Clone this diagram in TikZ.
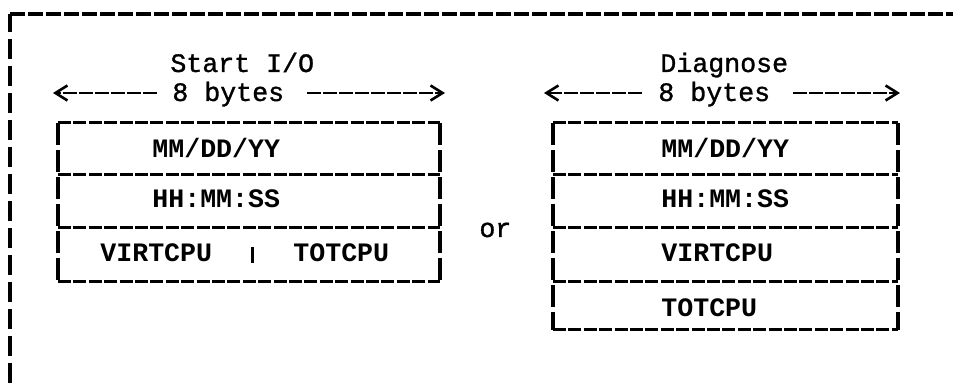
\documentclass[tikz,border=0pt]{standalone}
\usepackage{fontspec}
\setmainfont{Liberation Mono}
\newfontfamily\typefont{Liberation Mono}[FakeBold=1.2]
\usetikzlibrary{positioning}
\usetikzlibrary{arrows.meta}

\begin{document}
\begin{tikzpicture}[
    x=0.5pt, y=0.5pt,
    frametop/.style={line width=1.75pt,dash pattern=on 7.5pt off 1.5pt},
    frameside/.style={line width=2pt,dash pattern=on 10pt off 3.5pt},
    boxline/.style={line width=1.5pt,dash pattern=on 6.5pt off 1.2pt},
    boxside/.style={line width=1.6pt,dash pattern=on 11pt off 2.5pt},
    sizeline/.style={line width=1.1pt,dash pattern=on 7pt off 1pt,
        -{Straight Barb[length=6pt,width=7.5pt,line width=1.3pt]}},
    field/.style={anchor=base west,inner sep=0pt,font=\bfseries\fontsize{13.3}{16}\selectfont},
    caption/.style={anchor=base west,inner sep=0pt,font=\typefont\fontsize{13.3}{16}\selectfont}
    ]

    \useasboundingbox (0,0) rectangle (953,383);

    % page frame
    \draw[frameside] (10,0) -- (10,369);
    \draw[frametop] (10,369) -- (953,369);

    % Start I/O layout
    \node[caption] (sio) at (170,311) {Start I/O};
    \node[caption] (siobytes) at (172,282) {8 bytes};
    \coordinate (siol) at (53,290);
    \coordinate (sior) at (445,290);
    \coordinate (sioa) at (157,290);
    \coordinate (siob) at (307,290);

    \draw[boxline] (58,260) -- (440,260)
        (58,208) -- (440,208)
        (58,155) -- (440,155)
        (58,101) -- (440,101);
    \draw[boxside] (58,260) -- (58,101)
        (440,260) -- (440,101);

    \node[field] (siodate) at (152,225) {MM/DD/YY};
    \node[field] (siotime) at (152,175) {HH:MM:SS};
    \node[field] (siovirt) at (100,121) {VIRTCPU};
    \node[field] (siotot) at (293,121) {TOTCPU};
    \draw[line width=1.5pt] (252,120) -- (252,136);

    \node[caption] (or) at (479,146) {or};

    % Diagnose layout
    \node[caption] (diag) at (660,311) {Diagnose};
    \node[caption] (diagbytes) at (658,282) {8 bytes};
    \coordinate (diagl) at (544,290);
    \coordinate (diagr) at (900,290);
    \coordinate (diaga) at (642,290);
    \coordinate (diagb) at (793,290);

    \draw[boxline] (553,260) -- (898,260)
        (553,208) -- (898,208)
        (553,155) -- (898,155)
        (553,101) -- (898,101)
        (553,53) -- (898,53);
    \draw[boxside] (553,260) -- (553,53)
        (898,260) -- (898,53);

    \node[field] (diagdate) at (661,225) {MM/DD/YY};
    \node[field] (diagtime) at (661,175) {HH:MM:SS};
    \node[field] (diagvirt) at (661,121) {VIRTCPU};
    \node[field] (diagtot) at (661,66) {TOTCPU};

    \path (sioa) edge[sizeline] (siol)
    (siob) edge[sizeline] (sior)
    (diaga) edge[sizeline] (diagl)
    (diagb) edge[sizeline] (diagr)
    ;

\end{tikzpicture}
\end{document}
